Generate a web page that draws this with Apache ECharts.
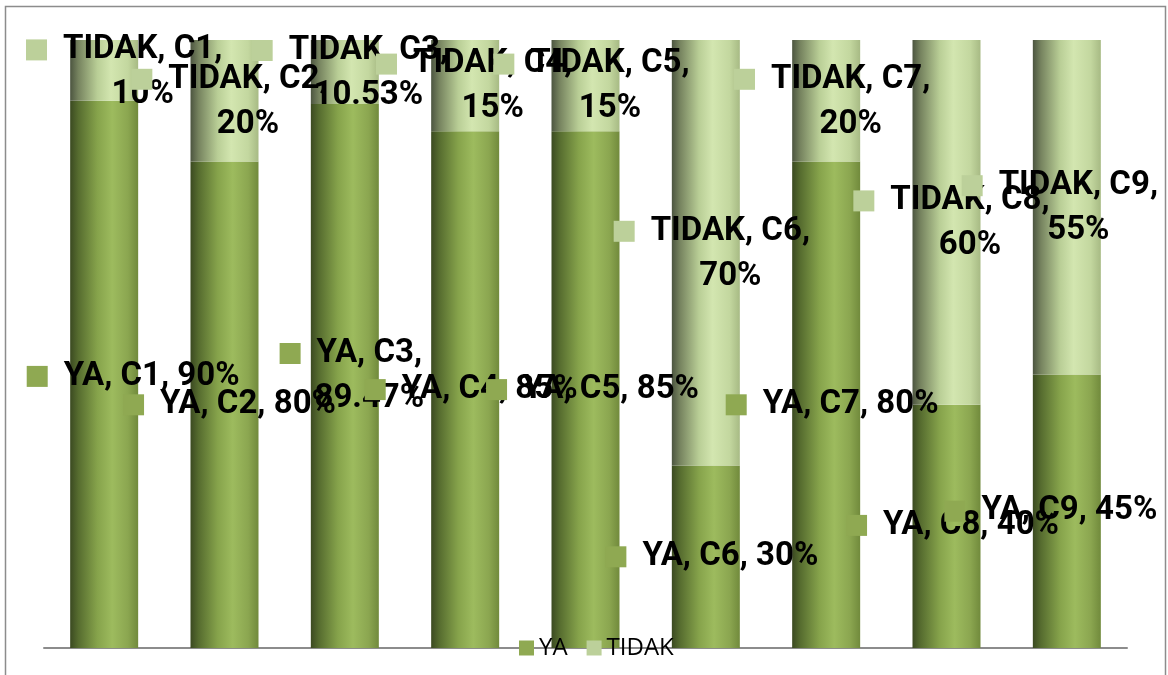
<!DOCTYPE html>
<html>
<head>
<meta charset="utf-8">
<script src="https://cdn.jsdelivr.net/npm/echarts@6/dist/echarts.min.js"></script>
<style>
  html, body { margin: 0; padding: 0; background: #fff; }
  #chart { width: 1168px; height: 675px; }
</style>
</head>
<body>
<div id="chart"></div>
<script>
// data
const categories = ['C1', 'C2', 'C3', 'C4', 'C5', 'C6', 'C7', 'C8', 'C9']
const yaValues = [90, 80, 89.47, 85, 85, 30, 80, 40, 45]
const tidakValues = [10, 20, 10.53, 15, 15, 70, 20, 60, 55]

// label shifts from the segment centre (labels were moved by hand in the original)
const yaLabelOffset = [[29, 2], [5, 0], [6, 0], [6, 0], [7, 0], [6, 0], [6, 0], [6, -1], [-16, 0]]
const tidakLabelOffset = [[20, 2], [5, 1], [5, 1], [9, 1], [6, 1], [6, 1], [6, 1], [5, 1], [-7, 1]]

const YA_KEY = '#8fa952'
const TIDAK_KEY = '#bcd09a'

const chart = echarts.init(document.getElementById('chart'))

function cylinder(stops) {
  return new echarts.graphic.LinearGradient(0, 0, 1, 0, stops.map((c) => ({ offset: c[0], color: c[1] })))
}

const yaFill = cylinder([
  [0, '#3b4a21'], [0.12, '#566c2f'], [0.4, '#86a34b'], [0.62, '#9dbb5e'], [0.85, '#8ba650'], [1, '#718a3c']
])
const tidakFill = cylinder([
  [0, '#4c5540'], [0.12, '#76835f'], [0.4, '#b9ce96'], [0.6, '#d3e6b0'], [0.85, '#c3d79f'], [1, '#a7ba84']
])

function fmt(v) {
  return (Number.isInteger(v) ? v : v.toFixed(2)) + '%'
}

// "SERIE, KATEGORI, NILAI" with a legend key in front, wrapped when long
function labelText(p) {
  const key = p.seriesName === 'YA' ? '{ky| }' : '{kt| }'
  const full = `${p.seriesName}, ${p.name}, ${fmt(p.value)}`
  if (full.length <= 12) return `${key}{g| }{t|${full}}`
  return `${key}{g| }{t|${p.seriesName}, ${p.name},}\n{sp| }{t|${fmt(p.value)}}`
}

const labelBase = {
  show: true,
  position: 'inside',
  formatter: labelText,
  color: '#000',
  textBorderWidth: 0,
  align: 'center',
  rich: {
    ky: { width: 21, height: 21, backgroundColor: YA_KEY },
    kt: { width: 21, height: 21, backgroundColor: TIDAK_KEY },
    g: { width: 16 },
    sp: { width: 37 },
    t: {
      fontFamily: 'Roboto',
      fontWeight: 'bold',
      fontSize: 33,
      lineHeight: 45,
      color: '#000',
    },
  },
}

function items(values, offsets) {
  return values.map((v, i) => ({ value: v, label: { offset: offsets[i] } }))
}

chart.setOption({
  animation: false,
  grid: {
    left: 44,
    right: 41,
    top: 40,
    bottom: 27,
    containLabel: false,
  },
  graphic: [
    {
      type: 'rect',
      z: -10,
      shape: { x: 5.5, y: 6.5, width: 1160, height: 700 },
      style: { fill: 'none', stroke: '#8c8c8c', lineWidth: 1.5 },
    },
  ],
  legend: {
    top: 631,
    left: 514,
    itemWidth: 15,
    itemHeight: 15,
    itemGap: 19,
    icon: 'rect',
    textStyle: { fontFamily: 'Open Sans', fontSize: 24, color: '#000' },
    data: [
      { name: 'YA', itemStyle: { color: YA_KEY } },
      { name: 'TIDAK', itemStyle: { color: TIDAK_KEY } },
    ],
  },
  xAxis: {
    type: 'category',
    data: categories,
    axisLine: { show: true, lineStyle: { color: '#8c8c8c', width: 2 } },
    axisTick: { show: false },
    axisLabel: { show: false },
  },
  yAxis: {
    type: 'value',
    min: 0,
    max: 100,
    show: false,
    splitLine: { show: false },
  },
  series: [
    {
      name: 'YA',
      type: 'bar',
      stack: 'total',
      barWidth: 68,
      itemStyle: { color: yaFill },
      label: labelBase,
      data: items(yaValues, yaLabelOffset),
    },
    {
      name: 'TIDAK',
      type: 'bar',
      stack: 'total',
      barWidth: 68,
      itemStyle: { color: tidakFill },
      label: labelBase,
      data: items(tidakValues, tidakLabelOffset),
    },
  ],
})
</script>
</body>
</html>
